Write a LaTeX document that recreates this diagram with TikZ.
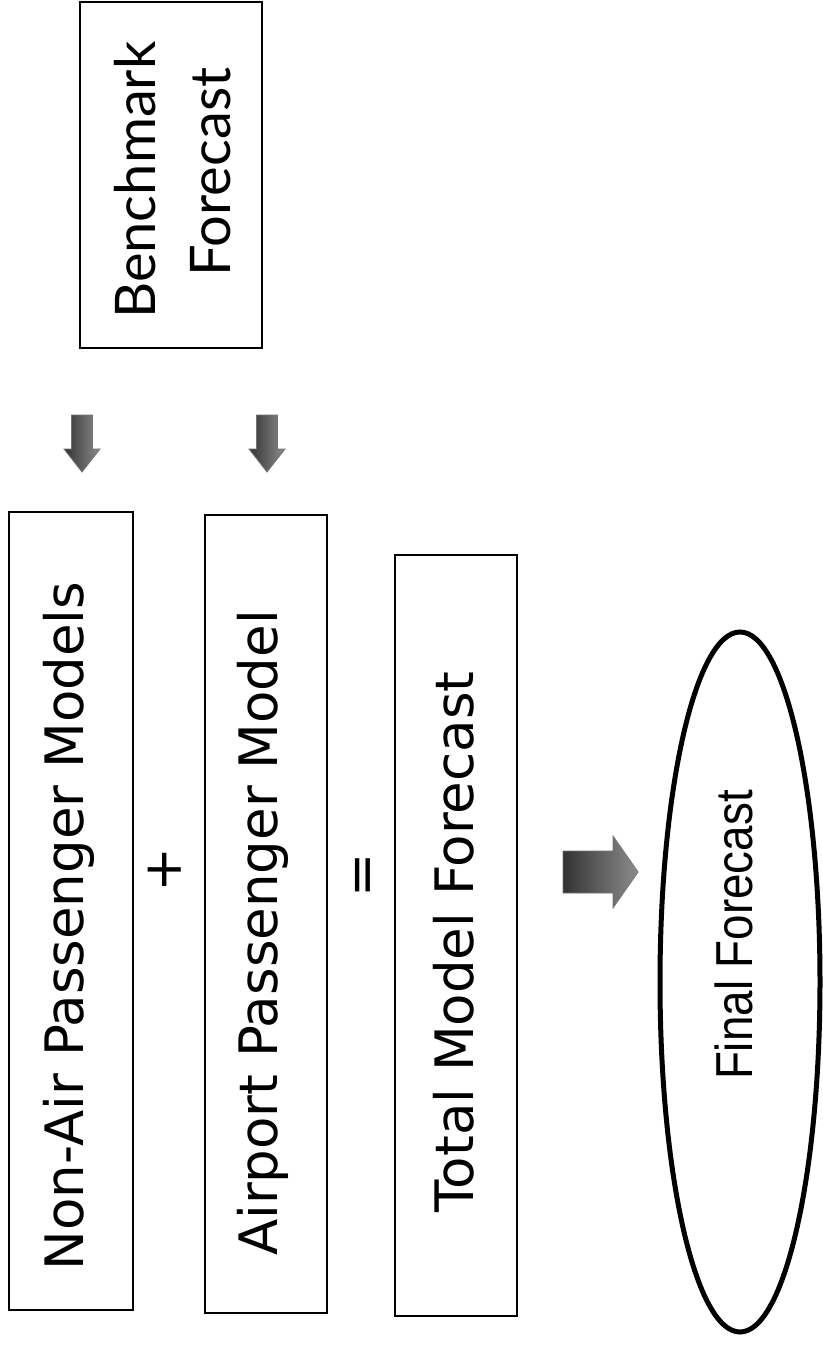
\documentclass[tikz,border=0pt]{standalone}
\usepackage{fontspec}
\setmainfont{DejaVu Sans}
\newfontfamily\benchfont{Lato}
\newfontfamily\narrowfont[FakeStretch=0.88]{Liberation Sans}
\begin{document}
\begin{tikzpicture}[x=1pt,y=-1pt,
  box/.style={draw=black, line width=1.6pt, inner sep=0pt, rectangle},
  lbl/.style={rotate=90, anchor=base, inner sep=0pt, font=\fontsize{53}{60}\selectfont},
  blbl/.style={rotate=90, anchor=base, inner sep=0pt, font=\benchfont\fontsize{56}{64}\selectfont},
  arrfill/.style={left color=black!80, right color=black!45, draw=black!55, line width=0.8pt}
]
\useasboundingbox (0,0) rectangle (822,1346);
\fill[white] (0,0) rectangle (822,1346);

% boxes
\node[box, minimum width=124, minimum height=798] (nonair) at (71,911) {};
\node[box, minimum width=122, minimum height=798] (airport) at (266,914) {};
\node[box, minimum width=122, minimum height=761] (total) at (456,935.5) {};
\node[box, minimum width=182, minimum height=346] (bench) at (171,175) {};

% labels
\node[lbl] (nonairtxt) at (83,926) {Non-Air Passenger Models};
\node[lbl] (airporttxt) at (277,933) {Airport Passenger Model};
\node[lbl] (totaltxt) at (473,942) {Total Model Forecast};
\node[blbl] (benchtxt1) at (155,180) {Benchmark};
\node[blbl] (benchtxt2) at (230,172) {Forecast};

% operators
\node[inner sep=0pt, font=\fontsize{53}{60}\selectfont] (plus) at (165,870) {+};
\node[inner sep=0pt, rotate=90, font=\fontsize{53}{60}\selectfont] (equals) at (367,875) {=};

% small down arrows from benchmark
\coordinate (a1) at (82,415);
\coordinate (a2) at (267,415);
\foreach \c in {a1,a2}{
  \path[arrfill] ([xshift=-10.5pt]\c) -- ([xshift=10.5pt]\c) -- ([xshift=10.5pt,yshift=-34pt]\c)
    -- ([xshift=18pt,yshift=-34pt]\c) -- ([yshift=-57pt]\c) -- ([xshift=-18pt,yshift=-34pt]\c)
    -- ([xshift=-10.5pt,yshift=-34pt]\c) -- cycle;
}

% big right arrow
\coordinate (b) at (563,872);
\path[arrfill] ([yshift=21pt]b) -- ([xshift=50pt,yshift=21pt]b) -- ([xshift=50pt,yshift=36pt]b)
  -- ([xshift=75pt]b) -- ([xshift=50pt,yshift=-36pt]b) -- ([xshift=50pt,yshift=-21pt]b)
  -- ([yshift=-21pt]b) -- cycle;

% final forecast ellipse
\draw[line width=5pt] (740,982) ellipse [x radius=80, y radius=350];
\node[rotate=90, anchor=base, inner sep=0pt, font=\narrowfont\fontsize{52}{60}\selectfont] (final) at (752,935) {Final Forecast};
\end{tikzpicture}
\end{document}
